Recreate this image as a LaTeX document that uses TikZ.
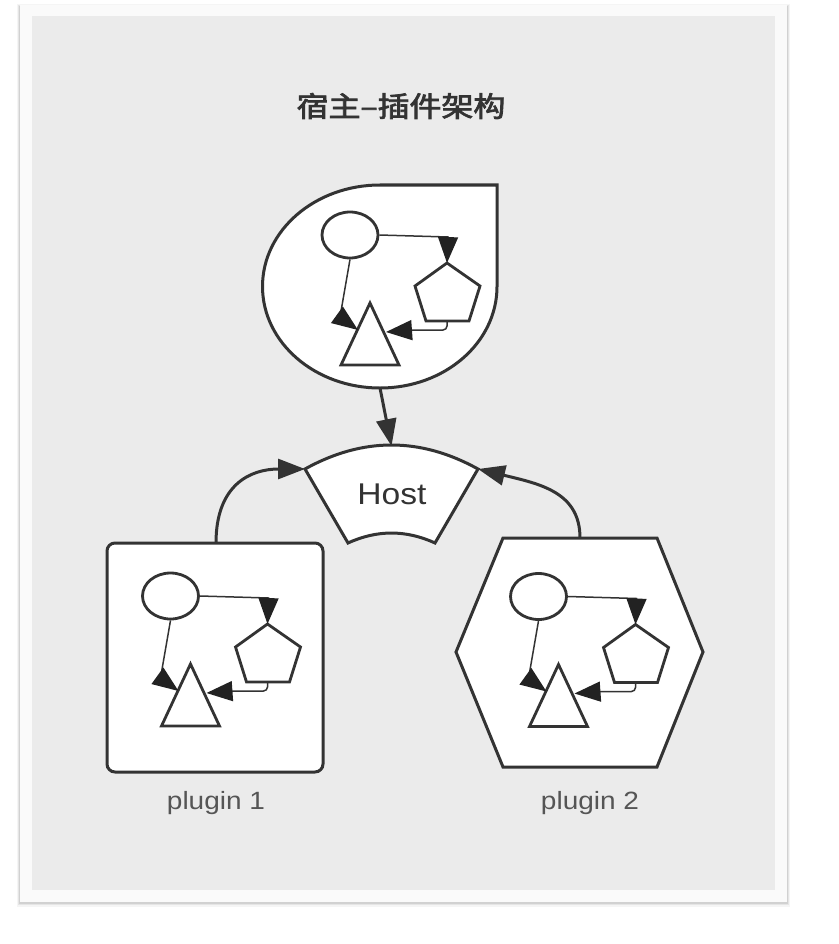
\documentclass[tikz,border=0pt]{standalone}
\usepackage{fontspec}
\usepackage{graphicx}
\setmainfont{Liberation Sans}
\newfontfamily\cjk[FakeBold=2.6]{Noto Sans CJK SC}
\usetikzlibrary{arrows.meta,shapes.geometric}
\definecolor{ink}{HTML}{333333}
\definecolor{tipc}{HTML}{222222}
\definecolor{bgray}{HTML}{EBEBEB}
\definecolor{lbl}{HTML}{555555}
\tikzset{
  outline/.style={draw=ink, line width=3pt, fill=white, line join=miter},
  innershape/.style={draw=ink, line width=2.8pt, fill=white},
  innertip/.tip={Triangle[length=26pt,width=20pt,color=tipc]},
  innerlink/.style={draw=ink, line width=1.5pt, -innertip},
  outerlink/.style={draw=ink, line width=3pt, -{Triangle[length=27pt,width=20pt]}},
}
\newcommand\innergroup[3]{%
  \begin{scope}[shift={(#2,#3)}]
    \node[innershape, ellipse, minimum width=56pt, minimum height=46pt, inner sep=0pt] (#1e) at (0,0) {};
    \draw[innershape] (97,28) -- (130,51) -- (119,86) -- (76,86) -- (65,51) -- cycle;
    \draw[innershape] (20,68) -- (49,130) -- (-9,130) -- cycle;
    \coordinate (#1pt) at (97,28);
    \coordinate (#1pb) at (97,86);
    \coordinate (#1tl) at (8,95);
    \coordinate (#1tr) at (36,97);
    \coordinate (#1c1) at (98,2);
    \coordinate (#1c2) at (-10,82);
    \coordinate (#1c3) at (64,95);
  \end{scope}
  \draw[innerlink] (#1e.east) -- (#1c1) -- (#1pt);
  \draw[innerlink] (#1e.south) -- (#1c2) -- (#1tl);
  \draw[innerlink, rounded corners=4pt] (#1pb) |- (#1c3) -- (#1tr);
}
\begin{document}
\begin{tikzpicture}[x=1pt,y=-1pt]
\useasboundingbox (0,0) rectangle (838,944);
% card with shadow
\fill[black!4] (17,4) rectangle (790,907);
\fill[black!10] (18,5) rectangle (789,905);
\fill[black!18] (19,6) rectangle (788,903.5);
\fill[white!98!black] (20,5) rectangle (787,902);
\fill[bgray] (32,16) rectangle (775,890);
% title
\node[text=ink, font=\cjk\fontsize{28}{33}\selectfont] (title) at (401,106) {\scalebox{1.14}[1]{宿主–插件架构}};
% top drop shape
\draw[outline] (380,185) -- (497,185) -- (497,286.5)
  .. controls (497,342.6) and (444.9,388) .. (380,388)
  .. controls (315.1,388) and (262.5,342.6) .. (262.5,286.5)
  .. controls (262.5,230.4) and (315.1,185) .. (380,185) -- cycle;
\coordinate (dropb) at (380,388);
\innergroup{d}{350}{235}
% host
\draw[outline] (305,469) .. controls (362.7,437) and (420.3,437) .. (478,469)
  -- (435,543) .. controls (406,529.7) and (377,529.7) .. (348,543) -- cycle;
\node[text=ink, font=\fontsize{30}{36}\selectfont] (host) at (392,494) {\scalebox{1.12}[1]{Host}};
\coordinate (hostt) at (391.5,446);
\coordinate (hostl) at (305,469);
\coordinate (hostr) at (478,469);
% plugin 1
\draw[outline, rounded corners=8pt] (107,543) rectangle (323,772);
\coordinate (p1top) at (216,543);
\innergroup{a}{170.5}{596}
\node[text=lbl, font=\fontsize{25}{30}\selectfont] (l1) at (216,803) {\scalebox{1.12}[1]{plugin 1}};
% plugin 2
\draw[outline] (503,538) -- (657,538) -- (703,652) -- (657,767) -- (503,767) -- (456,652) -- cycle;
\coordinate (p2top) at (580,538);
\innergroup{b}{538.5}{596.5}
\node[text=lbl, font=\fontsize{25}{30}\selectfont] (l2) at (590,803) {\scalebox{1.12}[1]{plugin 2}};
% links
\draw[outerlink] (dropb) -- (hostt);
\draw[outerlink] (p1top) .. controls (216,485) and (250,469) .. (hostl);
\draw[outerlink] (p2top) .. controls (580,492) and (540,484) .. (hostr);
\end{tikzpicture}
\end{document}
